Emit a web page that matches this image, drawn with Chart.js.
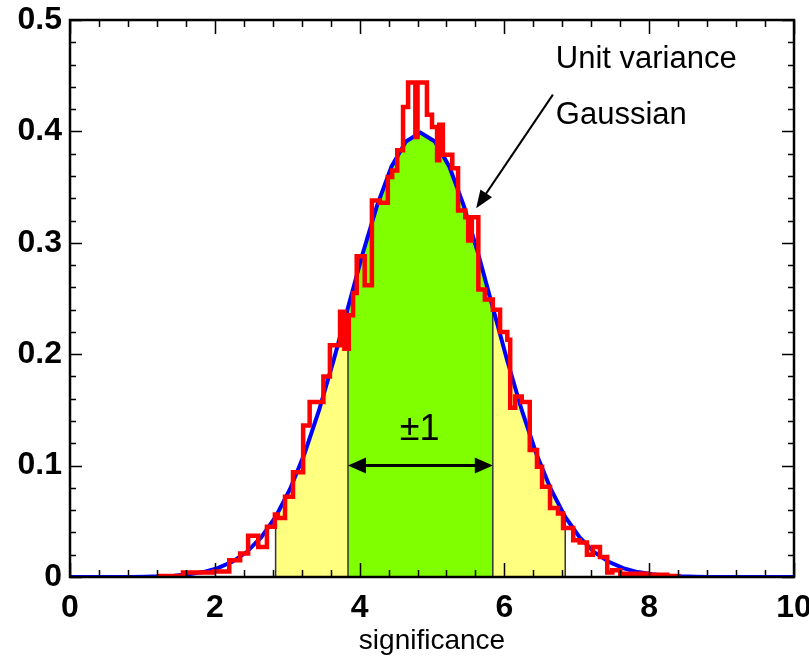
<!DOCTYPE html>
<html lang="en">
<head>
    <meta charset="UTF-8">
    <title>Significance distribution</title>
    <script src="https://cdn.jsdelivr.net/npm/chart.js"></script>
    <style>
        html, body {
            margin: 0;
            padding: 0;
            background: #fff;
        }

        .chart-container {
            width: 809px;
            height: 659px;
        }
    </style>
</head>
<body>
    <div class="chart-container">
        <canvas id="sigChart"></canvas>
    </div>

    <script>
        // red histogram: left bin edge and height (last point closes the step)
        const histEdges = [1.20, 1.56, 1.98, 2.20, 2.35, 2.46, 2.60, 2.72, 2.83, 2.87, 2.97, 3.08, 3.22, 3.31,
            3.50, 3.59, 3.73, 3.79, 3.85, 3.91, 3.96, 4.07, 4.17, 4.28, 4.39, 4.45, 4.52, 4.60, 4.67, 4.77, 4.80,
            4.93, 5.00, 5.07, 5.10, 5.15, 5.28, 5.36, 5.46, 5.50, 5.55, 5.64, 5.73, 5.84, 5.94, 6.04, 6.08, 6.15,
            6.24, 6.35, 6.45, 6.52, 6.63, 6.74, 6.81, 6.95, 7.04, 7.14, 7.22, 7.32, 7.42, 7.49, 7.60, 7.97, 8.25, 8.40];
        const histValues = [0.001, 0.004, 0.005, 0.015, 0.021, 0.037, 0.027, 0.045, 0.056, 0.053, 0.072, 0.094, 0.136, 0.157,
            0.180, 0.208, 0.238, 0.205, 0.235, 0.255, 0.288, 0.262, 0.338, 0.336, 0.359, 0.365, 0.383, 0.422, 0.444, 0.395, 0.444,
            0.415, 0.404, 0.374, 0.406, 0.379, 0.367, 0.329, 0.323, 0.302, 0.323, 0.258, 0.249, 0.240, 0.220, 0.213, 0.152, 0.162,
            0.157, 0.114, 0.099, 0.081, 0.062, 0.057, 0.044, 0.033, 0.031, 0.020, 0.027, 0.018, 0.004, 0.006, 0.003, 0.002, 0.001, 0];

        // blue unit variance gaussian
        const gaussX = [0, 0.84, 1.04, 1.24, 1.44, 1.64, 1.84, 2.04, 2.24, 2.44, 2.64, 2.84, 3.04, 3.24, 3.44, 3.64,
            3.84, 4.04, 4.24, 4.44, 4.64, 4.84, 5.04, 5.24, 5.44, 5.64, 5.84, 6.04, 6.24, 6.44, 6.64, 6.84, 7.04,
            7.24, 7.44, 7.64, 7.84, 8.04, 8.24, 8.44, 8.64, 8.84, 10];
        const gaussY = [0, 0.0001, 0.0003, 0.0006, 0.0012, 0.0024, 0.0044, 0.0079, 0.0136, 0.0224, 0.0355, 0.0540, 0.0790, 0.1109, 0.1497, 0.1942,
            0.2420, 0.2897, 0.3332, 0.3683, 0.3910, 0.3989, 0.3910, 0.3683, 0.3332, 0.2897, 0.2420, 0.1942, 0.1497, 0.1109, 0.0790, 0.0540, 0.0355,
            0.0224, 0.0136, 0.0079, 0.0044, 0.0024, 0.0012, 0.0006, 0.0003, 0.0001, 0];

        // shaded bands (+-1 green, +-2 yellow)
        const innerBand = [3.84, 5.84];
        const outerBand = [2.84, 6.84];

        const xTickValues = [0, 2, 4, 6, 8, 10];
        const yTickValues = [0, 0.1, 0.2, 0.3, 0.4, 0.5];

        const FONT = '"Liberation Sans", Arial, sans-serif';

        const histPoints = histEdges.map((x, i) => ({ x: x, y: histValues[i] }));
        const gaussPoints = gaussX.map((x, i) => ({ x: x, y: gaussY[i] }));

        function bandPoints(lo, hi) {
            return gaussPoints.filter(p => p.x >= lo - 1e-6 && p.x <= hi + 1e-6);
        }

        function edgeLine(xv) {
            const idx = gaussX.findIndex(v => Math.abs(v - xv) < 1e-6);
            return [{ x: xv, y: 0 }, { x: xv, y: gaussY[idx] }];
        }

        const edgeDatasets = [outerBand[0], innerBand[0], innerBand[1], outerBand[1]].map(xv => ({
            data: edgeLine(xv),
            borderColor: '#333333',
            borderWidth: 1.5,
            pointRadius: 0,
            fill: false,
            order: 3
        }));

        function arrowHead(ctx, x1, y1, x2, y2, len, half) {
            const ang = Math.atan2(y2 - y1, x2 - x1);
            ctx.beginPath();
            ctx.moveTo(x2, y2);
            ctx.lineTo(x2 - len * Math.cos(ang) + half * Math.sin(ang), y2 - len * Math.sin(ang) - half * Math.cos(ang));
            ctx.lineTo(x2 - len * Math.cos(ang) - half * Math.sin(ang), y2 - len * Math.sin(ang) + half * Math.cos(ang));
            ctx.closePath();
            ctx.fill();
        }

        // frame with inward ticks on all four sides, plus the annotations
        const framePlugin = {
            id: 'frame',
            afterDatasetsDraw(chart) {
                const { ctx, scales: { x, y } } = chart;
                // take the box from the scales themselves
                const L = x.getPixelForValue(x.min), R = x.getPixelForValue(x.max);
                const T = y.getPixelForValue(y.max), B = y.getPixelForValue(y.min);
                ctx.save();
                ctx.strokeStyle = '#000';
                ctx.fillStyle = '#000';
                ctx.lineWidth = 1.5;
                ctx.beginPath();
                for (let i = 0; i <= 25; i++) {
                    const px = Math.round(x.getPixelForValue(i * 0.4)) + 0.5;
                    const len = i % 5 === 0 ? 14 : 7;
                    ctx.moveTo(px, B); ctx.lineTo(px, B - len);
                    ctx.moveTo(px, T); ctx.lineTo(px, T + len);
                }
                for (let i = 0; i <= 25; i++) {
                    const py = Math.round(y.getPixelForValue(i * 0.02)) + 0.5;
                    const len = i % 5 === 0 ? 12 : 6;
                    ctx.moveTo(L, py); ctx.lineTo(L + len, py);
                    ctx.moveTo(R, py); ctx.lineTo(R - len, py);
                }
                ctx.stroke();
                ctx.lineWidth = 2.5;
                ctx.strokeRect(L, T, R - L, B - T);

                // +-1 double arrow
                const ay = y.getPixelForValue(0.1);
                const ax1 = x.getPixelForValue(innerBand[0]);
                const ax2 = x.getPixelForValue(innerBand[1]);
                ctx.lineWidth = 3;
                ctx.beginPath();
                ctx.moveTo(ax1 + 10, ay);
                ctx.lineTo(ax2 - 10, ay);
                ctx.stroke();
                arrowHead(ctx, ax2 - 20, ay, ax2, ay, 18, 8);
                arrowHead(ctx, ax1 + 20, ay, ax1, ay, 18, 8);

                ctx.font = '36px ' + FONT;
                ctx.textAlign = 'center';
                ctx.textBaseline = 'middle';
                ctx.fillText('\u00b11', x.getPixelForValue(4.83), y.getPixelForValue(0.132));

                // pointer to the gaussian
                const sx = x.getPixelForValue(6.67), sy = y.getPixelForValue(0.433);
                const tx = x.getPixelForValue(5.61), ty = y.getPixelForValue(0.331);
                ctx.lineWidth = 2;
                ctx.beginPath();
                ctx.moveTo(sx, sy);
                ctx.lineTo(tx + (sx - tx) * 0.1, ty + (sy - ty) * 0.1);
                ctx.stroke();
                arrowHead(ctx, sx, sy, tx, ty, 18, 7);

                ctx.font = '31px ' + FONT;
                ctx.textAlign = 'left';
                ctx.fillText('Unit variance', x.getPixelForValue(6.71), y.getPixelForValue(0.465));
                ctx.fillText('Gaussian', x.getPixelForValue(6.71), y.getPixelForValue(0.414));
                ctx.restore();
            }
        };

        Chart.defaults.font.family = FONT;
        Chart.defaults.color = '#000';

        new Chart(document.getElementById('sigChart').getContext('2d'), {
            type: 'line',
            data: {
                datasets: [
                    {
                        data: histPoints,
                        borderColor: '#ff0000',
                        borderWidth: 4.5,
                        stepped: 'before',
                        pointRadius: 0,
                        fill: false,
                        order: 1
                    },
                    {
                        data: gaussPoints,
                        borderColor: '#0000ff',
                        borderWidth: 4,
                        pointRadius: 0,
                        fill: false,
                        order: 2
                    },
                    ...edgeDatasets,
                    {
                        data: bandPoints(innerBand[0], innerBand[1]),
                        borderWidth: 0,
                        backgroundColor: '#80ff00',
                        pointRadius: 0,
                        fill: 'origin',
                        order: 4
                    },
                    {
                        data: bandPoints(outerBand[0], innerBand[0]),
                        borderWidth: 0,
                        backgroundColor: '#ffff80',
                        pointRadius: 0,
                        fill: 'origin',
                        order: 5
                    },
                    {
                        data: bandPoints(innerBand[1], outerBand[1]),
                        borderWidth: 0,
                        backgroundColor: '#ffff80',
                        pointRadius: 0,
                        fill: 'origin',
                        order: 5
                    }
                ]
            },
            options: {
                responsive: true,
                maintainAspectRatio: false,
                animation: false,
                layout: { padding: { left: 0, right: 15, top: 0, bottom: 0 } },
                plugins: {
                    legend: { display: false },
                    tooltip: { enabled: false }
                },
                scales: {
                    x: {
                        type: 'linear',
                        min: 0,
                        max: 10,
                        afterFit(scale) {
                            scale.height = 82;
                            scale.paddingLeft = 0;
                            scale.paddingRight = 0;
                        },
                        afterBuildTicks(scale) { scale.ticks = xTickValues.map(v => ({ value: v })); },
                        ticks: {
                            font: { size: 32, weight: 'bold' },
                            padding: 12,
                            maxRotation: 0,
                            callback: v => String(v)
                        },
                        grid: { drawOnChartArea: false, drawTicks: false },
                        border: { display: false },
                        title: {
                            display: true,
                            text: 'significance',
                            font: { size: 28 },
                            padding: { top: 0, bottom: 1 }
                        }
                    },
                    y: {
                        min: 0,
                        max: 0.5,
                        afterFit(scale) {
                            scale.width = 70;
                            scale.paddingTop = 20;
                            scale.paddingBottom = 0;
                        },
                        afterBuildTicks(scale) { scale.ticks = yTickValues.map(v => ({ value: v })); },
                        ticks: {
                            font: { size: 32, weight: 'bold' },
                            padding: 8,
                            callback: v => v === 0 ? '0' : v.toFixed(1)
                        },
                        grid: { drawOnChartArea: false, drawTicks: false },
                        border: { display: false }
                    }
                }
            },
            plugins: [framePlugin]
        });
    </script>
</body>
</html>
